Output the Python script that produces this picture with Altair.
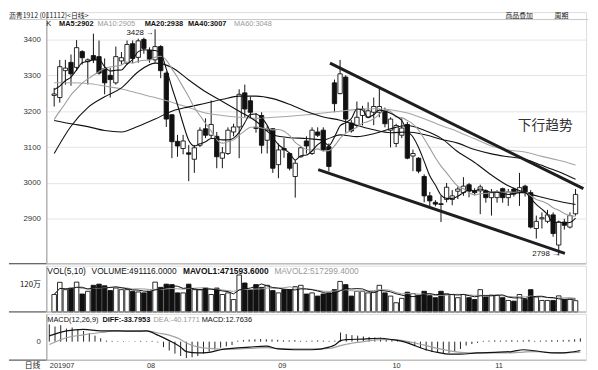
import altair as alt
import pandas as pd

# ---------------- data ----------------
opens = [3244, 3238, 3313, 3336, 3322, 3366, 3338, 3355, 3352, 3318,
         3300, 3279, 3340, 3334, 3388, 3350, 3400, 3370, 3343, 3380,
         3306, 3190, 3116, 3096, 3084, 3066, 3105, 3151, 3133, 3130,
         3069, 3082, 3142, 3156, 3251, 3229, 3155, 3188, 3119, 3151,
         3051, 3096, 3082, 3018, 3073, 3117, 3082, 3142, 3147, 3101,
         3279, 3249, 3295, 3167, 3160, 3188, 3183, 3197, 3197, 3201,
         3147, 3110, 3133, 3163, 3075, 3069, 3018, 2964, 2946, 2942,
         2954, 2954, 2977, 2973, 2995, 2978, 2978, 2978, 2959, 2959,
         2984, 2959, 2983, 2975, 2991, 2973, 2873, 2900, 2893, 2911,
         2827, 2891, 2877, 2914]
highs = [3265, 3343, 3343, 3358, 3398, 3370, 3347, 3416, 3397, 3347,
         3320, 3380, 3365, 3397, 3397, 3402, 3405, 3378, 3428, 3384,
         3311, 3192, 3134, 3134, 3106, 3106, 3155, 3180, 3230, 3142,
         3100, 3155, 3165, 3261, 3274, 3240, 3195, 3197, 3160, 3153,
         3110, 3125, 3085, 3064, 3101, 3130, 3155, 3155, 3155, 3110,
         3288, 3343, 3300, 3175, 3227, 3215, 3225, 3238, 3265, 3210,
         3183, 3165, 3180, 3170, 3093, 3072, 3024, 2975, 2952, 2964,
         3000, 2980, 2990, 3016, 3000, 2985, 2995, 2982, 2983, 2980,
         2987, 2983, 2987, 3028, 2995, 2980, 2909, 2918, 2925, 2918,
         2895, 2900, 2918, 2983]
lows = [3213, 3224, 3274, 3271, 3312, 3330, 3274, 3334, 3302, 3247,
        3238, 3274, 3330, 3329, 3334, 3335, 3360, 3335, 3335, 3292,
        3156, 3069, 3073, 3080, 3005, 3028, 3100, 3125, 3124, 3041,
        3041, 3078, 3130, 3069, 3183, 3183, 3140, 3082, 3082, 3028,
        3013, 3070, 3035, 2959, 3070, 3082, 3078, 3128, 3088, 3032,
        3197, 3247, 3140, 3140, 3156, 3160, 3180, 3161, 3183, 3155,
        3099, 3100, 3125, 3066, 3033, 3027, 2946, 2930, 2935, 2891,
        2946, 2938, 2955, 2964, 2960, 2965, 2913, 2945, 2909, 2945,
        2945, 2936, 2962, 2936, 2962, 2873, 2845, 2873, 2888, 2850,
        2798, 2870, 2873, 2909]
closes = [3248, 3324, 3320, 3304, 3377, 3349, 3343, 3343, 3306, 3279,
          3288, 3352, 3349, 3386, 3347, 3396, 3375, 3345, 3380, 3313,
          3178, 3115, 3103, 3117, 3080, 3098, 3147, 3133, 3163, 3073,
          3084, 3147, 3156, 3247, 3206, 3197, 3152, 3105, 3147, 3041,
          3092, 3092, 3041, 3055, 3098, 3103, 3147, 3133, 3092, 3046,
          3221, 3304, 3178, 3145, 3183, 3206, 3201, 3213, 3213, 3165,
          3178, 3160, 3153, 3069, 3082, 3033, 2964, 2950, 2941, 2940,
          2988, 2964, 2983, 2991, 2977, 2973, 2989, 2959, 2973, 2975,
          2959, 2975, 2969, 2987, 2975, 2877, 2893, 2903, 2911, 2859,
          2891, 2882, 2909, 2968]

ma5 = [3260, 3270, 3285, 3295, 3315, 3335, 3339, 3343, 3344, 3324,
       3312, 3314, 3315, 3331, 3344, 3366, 3371, 3370, 3369, 3362,
       3318, 3266, 3218, 3165, 3119, 3103, 3109, 3115, 3124, 3123,
       3120, 3120, 3125, 3141, 3168, 3191, 3192, 3181, 3161, 3128,
       3107, 3095, 3083, 3064, 3076, 3078, 3089, 3107, 3115, 3104,
       3128, 3159, 3168, 3179, 3206, 3203, 3183, 3190, 3203, 3200,
       3194, 3186, 3174, 3145, 3128, 3099, 3060, 3020, 2994, 2966,
       2957, 2957, 2963, 2973, 2981, 2978, 2983, 2978, 2974, 2974,
       2971, 2968, 2970, 2973, 2973, 2957, 2940, 2927, 2912, 2889,
       2891, 2889, 2890, 2902]
ma10 = [3177, 3200, 3222, 3245, 3262, 3278, 3290, 3300, 3310, 3319,
        3323, 3326, 3329, 3337, 3334, 3339, 3342, 3342, 3350, 3353,
        3342, 3318, 3294, 3267, 3240, 3210, 3188, 3166, 3145, 3121,
        3111, 3115, 3120, 3133, 3145, 3155, 3156, 3153, 3151, 3148,
        3149, 3144, 3132, 3113, 3102, 3093, 3092, 3095, 3089, 3090,
        3103, 3124, 3138, 3147, 3155, 3166, 3171, 3179, 3191, 3203,
        3199, 3184, 3182, 3174, 3164, 3147, 3123, 3097, 3070, 3047,
        3028, 3008, 2991, 2984, 2973, 2967, 2970, 2971, 2974, 2977,
        2974, 2975, 2974, 2974, 2973, 2964, 2954, 2949, 2942, 2931,
        2924, 2915, 2909, 2907]

ma_idx = list(range(0, 94, 3))
ma20 = [3082, 3158, 3210, 3240, 3265, 3310, 3334, 3322, 3287, 3254,
        3227, 3200, 3172, 3134, 3126, 3124, 3120, 3134, 3129, 3137,
        3151, 3160, 3147, 3125, 3087, 3057, 3022, 2992, 2973, 2960,
        2949, 2940]
ma40 = [3174, 3165, 3157, 3146, 3142, 3158, 3178, 3200, 3212, 3222,
        3233, 3242, 3242, 3235, 3219, 3199, 3184, 3175, 3161, 3148,
        3140, 3142, 3135, 3122, 3111, 3093, 3081, 3073, 3066, 3049,
        3031, 3010]
ma60 = [3279, 3279, 3277, 3270, 3262, 3250, 3238, 3225, 3210, 3195,
        3188, 3183, 3180, 3183, 3186, 3190, 3195, 3200, 3205, 3207,
        3204, 3195, 3179, 3160, 3143, 3123, 3103, 3092, 3086, 3074,
        3063, 3050]

volumes = [76, 129, 97, 104, 130, 78, 90, 116, 121, 114,
           93, 104, 97, 97, 90, 87, 83, 90, 130, 107,
           121, 119, 83, 83, 121, 97, 97, 104, 76, 104,
           76, 83, 54, 161, 126, 97, 119, 107, 116, 93,
           83, 97, 97, 110, 116, 78, 83, 69, 78, 83,
           97, 133, 119, 69, 90, 90, 83, 87, 116, 83,
           69, 40, 59, 86, 80, 73, 90, 71, 62, 90,
           78, 76, 62, 76, 62, 54, 97, 65, 73, 73,
           62, 50, 47, 76, 54, 97, 65, 50, 50, 50,
           70, 54, 55, 49.1]

hist = [66, 58, 63, 50, 54, 48, 41, 33, 23, 13,
        4, 3, 2, 2, 1, 2, 3, 2, 3, -3,
        -21, -34, -46, -55, -63, -60, -55, -46, -38, -30,
        -23, -18, -13, 4, 6, 8, 9, 10, 9, 8,
        7, 5, 5, 6, 3, 3, 4, 5, 4, 3,
        4, 35, 29, 25, 23, 20, 18, 16, 15, 10,
        6, 4, 2, -9, -18, -25, -34, -40, -43, -46,
        -43, -38, -28, -15, -9, -5, 3, 4, 5, 4,
        5, 6, 4, 5, 7, 3, 4, 5, 6, 5,
        6, 7, 9, 12.76]
macd_idx = [0, 3, 6, 9, 12, 15, 17, 19, 21, 23, 24, 26, 28, 30, 32, 35, 38, 40, 43, 46,
            49, 50, 51, 52, 55, 58, 60, 62, 64, 66, 68, 70, 72, 75, 78, 81, 83, 85, 87, 89,
            91, 93]
diff = [22, 41, 47, 41, 41, 40, 41, 25, 4, -21, -38, -43, -41, -31, -26, -21, -17, -28, -31, -31,
        -21, -13, 4, 8, 10, 13, 8, 0, -15, -31, -41, -48, -48, -43, -41, -38, -31, -35, -41, -43,
        -41, -34]
dea = [-11, 15, 26, 35, 41, 41, 41, 33, 25, 8, -5, -20, -26, -29, -29, -26, -23, -26, -28, -28,
       -26, -22, -15, -10, 0, 8, 8, 4, -5, -15, -26, -35, -41, -43, -43, -43, -40, -38, -41, -43,
       -42, -40]

price_ticks = [2900, 3000, 3100, 3200, 3300, 3400]
vol_ticks = [120]
macd_ticks = [0]
month_idx = [0, 17, 40, 60, 78]
month_labels = ["201907", "08", "09", "10", "11"]

trend_idx = [49.2, 94.4, 47.1, 91.1]
trend_val = [3334, 2984, 3037, 2804]
trend_id = ["upper", "upper", "lower", "lower"]

note_text = ["3428 →", "2798 →"]
note_idx = [17.8, 90.2]
note_val = [3418, 2801]

trend_label = ["下行趋势"]
trend_label_idx = [87.6]
trend_label_val = [3158]

title_text = "沥青1912 (011112)<日线>"
menu_text = ["商品叠加", "周期"]
main_hdr = ["K", "MA5:2902", "MA10:2905", "MA20:2938", "MA40:3007", "MA60:3048"]
vol_hdr = ["VOL(5,10)", "VOLUME:491116.0000", "MAVOL1:471593.6000", "MAVOL2:517299.4000"]
macd_hdr = ["MACD(12,26,9)", "DIFF:-33.7953", "DEA:-40.1771", "MACD:12.7636"]
axis_corner = "日线"

# ---------------- frames ----------------
N = len(closes)
candles = pd.DataFrame({
    "idx": list(range(N)), "open": opens, "high": highs, "low": lows, "close": closes,
    "dir": ["up" if c >= o else "down" for o, c in zip(opens, closes)],
    "ma5": ma5, "ma10": ma10, "vol": volumes, "hist": hist,
})
ma_df = pd.DataFrame({"idx": ma_idx, "ma20": ma20, "ma40": ma40, "ma60": ma60})
macd_df = pd.DataFrame({"idx": macd_idx, "diff": diff, "dea": dea})
trend_df = pd.DataFrame({"idx": trend_idx, "val": trend_val, "line": trend_id})
note_df = pd.DataFrame({"idx": note_idx, "val": note_val, "text": note_text})
tl_df = pd.DataFrame({"idx": trend_label_idx, "val": trend_label_val, "text": trend_label})

# ---------------- layout / style ----------------
W, H1, H2, H3 = 549, 256, 47, 47
FONT = "Liberation Sans"
CJK = "Noto Sans CJK SC"
BLACK, GRAY = "#111111", "#9a9a9a"

XS = alt.Scale(domain=[-0.52, 94.0], nice=False, zero=False)
PS = alt.Scale(domain=[2774.8, 3476.2], nice=False, zero=False)
VS = alt.Scale(domain=[0, 201.4], nice=False, zero=False)
MS = alt.Scale(domain=[-70.7, 106.4], nice=False, zero=False)
FILL = alt.Scale(domain=["up", "down"], range=["#ffffff", BLACK])


def yaxis(values, font=FONT, color="#333333", **kw):
    return alt.Axis(values=values, title=None, ticks=False, domainColor=GRAY, domainWidth=1,
                    labelFont=font, labelFontSize=8, labelColor=color, labelPadding=6,
                    minExtent=38, maxExtent=38, labelOverlap=False, **kw)


AX_P = yaxis(price_ticks, grid=True, gridColor="#e3e3e3", gridWidth=1, format="d")
AX_V = yaxis(vol_ticks, font=CJK, color=BLACK, grid=False, labelExpr="datum.value + '万'")
AX_M = yaxis(macd_ticks, grid=False, format="d")
label_expr = " : ".join(f"datum.value == {i} ? '{l}'" for i, l in zip(month_idx, month_labels)) + " : ''"
AX_X = alt.Axis(values=month_idx, labelExpr=label_expr, title=None, ticks=False, domain=False,
                grid=False, labelAlign="left", labelFont=FONT, labelFontSize=7.5,
                labelColor="#333333", labelPadding=2, labelOverlap=False, labelFlush=False)

X0 = alt.X("idx:Q", scale=XS, axis=None)
XM = alt.X("idx:Q", scale=XS, axis=AX_X)
ONE = pd.DataFrame({"k": [0]})


def yp(f):
    return alt.Y(f, scale=PS, axis=AX_P)


def yv(f):
    return alt.Y(f, scale=VS, axis=AX_V)


def ym(f):
    return alt.Y(f, scale=MS, axis=AX_M)


def text_at(txt, px, py, size, color=BLACK, weight="normal", font=FONT, align="left"):
    return alt.Chart(pd.DataFrame({"t": [txt]})).mark_text(
        align=align, baseline="middle", font=font, fontSize=size, fontWeight=weight, color=color
    ).encode(x=alt.value(px), y=alt.value(py), text="t:N")


def hline(x0, x1, y, color, w=1.0):
    return alt.Chart(ONE).mark_rule(color=color, strokeWidth=w).encode(
        x=alt.value(x0), x2=alt.value(x1), y=alt.value(y))


def separator(h):
    return [hline(-38, 0, h, "#333333"), hline(0, W, h, "#a8a8a8")]


# ---------------- main (K-line) panel ----------------
base = alt.Chart(candles)
wick = base.mark_rule(color=BLACK, strokeWidth=1).encode(x=X0, y=yp("low:Q"), y2="high:Q")
body = base.mark_bar(size=4.4, stroke=BLACK, strokeWidth=0.9).encode(
    x=X0, y=yp("open:Q"), y2="close:Q", fill=alt.Fill("dir:N", scale=FILL, legend=None))


def ma_line(df, field, color, interp="linear", w=1.1):
    return alt.Chart(df).mark_line(color=color, strokeWidth=w, interpolate=interp).encode(
        x=X0, y=yp(f"{field}:Q"))


lines = [
    ma_line(ma_df, "ma60", "#a6a6a6", "monotone"),
    ma_line(ma_df, "ma40", BLACK, "monotone"),
    ma_line(ma_df, "ma20", BLACK, "monotone"),
    ma_line(candles, "ma10", "#9c9c9c", "monotone"),
    ma_line(candles, "ma5", BLACK, "monotone"),
]
trend = alt.Chart(trend_df).mark_line(color="#1e1e1e", strokeWidth=3).encode(
    x=X0, y=yp("val:Q"), detail="line:N")
notes = alt.Chart(note_df).mark_text(align="right", baseline="middle", font=FONT, fontSize=8,
                                      color=BLACK).encode(x=X0, y=yp("val:Q"), text="text:N")
tlabel = alt.Chart(tl_df).mark_text(align="center", baseline="middle", font=CJK, fontSize=14,
                                     color="#333333").encode(x=X0, y=yp("val:Q"), text="text:N")

main_styles = [(BLACK, "normal"), (BLACK, "bold"), (GRAY, "normal"),
               (BLACK, "bold"), (BLACK, "bold"), (GRAY, "normal")]
main_px = [0, 13, 52, 100, 144, 191]
main_texts = [text_at(t, p, 12, 7.5, c, w) for t, p, (c, w) in zip(main_hdr, main_px, main_styles)]
top_bits = [
    text_at(title_text, -38, 3.6, 7, "#222222", font=CJK),
    text_at(menu_text[0], 467, 3.6, 7, "#222222", font=CJK),
    text_at(menu_text[1], 517, 3.6, 7, "#222222", font=CJK),
    hline(467, 495, 7.2, "#444444"),
    hline(517, 531, 7.2, "#444444"),
    hline(-38, W + 2, 7.6, "#c8c8c8", 1.0),
]
main = alt.layer(wick, body, *lines, trend, notes, tlabel, *main_texts, *top_bits,
                 *separator(H1)).properties(width=W, height=H1)

# ---------------- volume panel ----------------
vol_bars = base.mark_bar(size=4.6, stroke=BLACK, strokeWidth=0.9).encode(
    x=X0, y=yv("vol:Q"), fill=alt.Fill("dir:N", scale=FILL, legend=None))
mavol1 = base.transform_window(m1="mean(vol)", frame=[-4, 0], sort=[alt.SortField("idx")]).mark_line(
    color=BLACK, strokeWidth=1).encode(x=X0, y=yv("m1:Q"))
mavol2 = base.transform_window(m2="mean(vol)", frame=[-9, 0], sort=[alt.SortField("idx")]).mark_line(
    color=GRAY, strokeWidth=1).encode(x=X0, y=yv("m2:Q"))
vol_styles = [(BLACK, "normal"), (BLACK, "normal"), (BLACK, "bold"), (GRAY, "normal")]
vol_px = [1, 46, 139, 232]
vol_texts = [text_at(t, p, 5, 8.5, c, w) for t, p, (c, w) in zip(vol_hdr, vol_px, vol_styles)]
vol = alt.layer(vol_bars, mavol2, mavol1, *vol_texts, *separator(H2)).properties(width=W, height=H2)

# ---------------- MACD panel ----------------
hist_rule = base.mark_rule(color="#222222", strokeWidth=1).encode(x=XM, y=ym("hist:Q"), y2=alt.datum(0))
dea_line = alt.Chart(macd_df).mark_line(color="#a0a0a0", strokeWidth=1.2, interpolate="monotone").encode(
    x=XM, y=ym("dea:Q"))
diff_line = alt.Chart(macd_df).mark_line(color=BLACK, strokeWidth=1.2, interpolate="monotone").encode(
    x=XM, y=ym("diff:Q"))
macd_styles = [(BLACK, "normal"), (BLACK, "bold"), (GRAY, "normal"), (BLACK, "normal")]
macd_px = [1, 57, 109, 158]
macd_texts = [text_at(t, p, 6, 7.5, c, w) for t, p, (c, w) in zip(macd_hdr, macd_px, macd_styles)]
corner = text_at(axis_corner, -6, H3 + 6.5, 8, "#222222", font=CJK, align="right")
macd = alt.layer(hist_rule, dea_line, diff_line, *macd_texts, corner,
                 *separator(H3)).properties(width=W, height=H3)

chart = alt.vconcat(main, vol, macd, spacing=0).properties(
    padding={"left": 0, "top": 0, "right": 0, "bottom": 0}, background="white"
).configure_view(stroke=None).configure(font=FONT, padding=0)

chart.save("out.html", embed_options={"renderer": "svg", "actions": False})
